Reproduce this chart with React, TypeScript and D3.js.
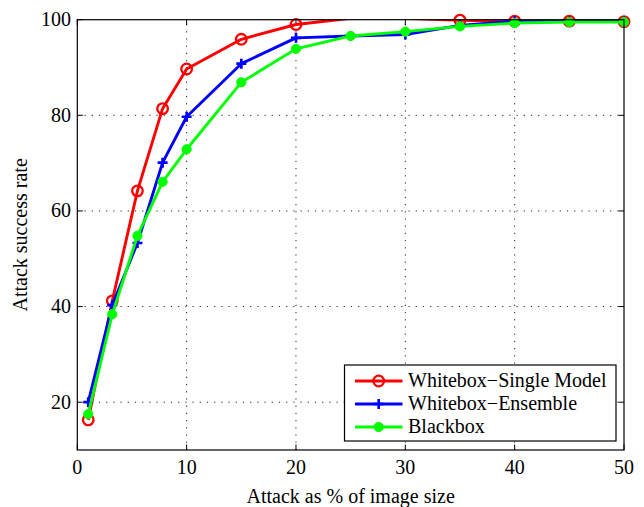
import React from "react";
import * as d3 from "d3";

const xValues = [1, 3.2, 5.5, 7.8, 10, 15, 20, 25, 30, 35, 40, 45, 50];
const singleModel = [16.3, 41.2, 64.2, 81.4, 89.7, 95.9, 99.0, 100.3, 100.3, 99.9, 99.7, 99.7, 99.6];
const ensemble = [20.0, 40.3, 53.3, 70.1, 79.7, 90.8, 96.2, 96.6, 96.9, 98.8, 99.7, 99.6, 99.6];
const blackbox = [17.5, 38.4, 54.8, 66.1, 72.9, 86.9, 93.9, 96.6, 97.5, 98.6, 99.3, 99.5, 99.5];
const xTicks = [0, 10, 20, 30, 40, 50];
const yTicks = [20, 40, 60, 80, 100];
const seriesNames = ["Whitebox\u2212Single Model", "Whitebox\u2212Ensemble", "Blackbox"];

const W = 644, H = 507;
const L = 77.3, R = 624, T = 19.7, B = 450;
const FONT = "'Liberation Serif', 'Times New Roman', Times, serif";

export default function App() {
  const x = d3.scaleLinear().domain([0, 50]).range([L, R]);
  const y = d3.scaleLinear().domain([10, 100]).range([B, T]);
  const line = d3.line<number>().x((_, i) => x(xValues[i])).y((d) => y(d));
  const series = [
    { name: seriesNames[0], data: singleModel, color: "#ff0000", marker: "circle" },
    { name: seriesNames[1], data: ensemble, color: "#0000ff", marker: "plus" },
    { name: seriesNames[2], data: blackbox, color: "#00ff00", marker: "dot" },
  ];

  const drawMarker = (kind: string, cx: number, cy: number, color: string, key: any) => {
    if (kind === "circle")
      return <circle key={key} cx={cx} cy={cy} r={5.3} fill="none" stroke={color} strokeWidth={2.3} />;
    if (kind === "plus")
      return (
        <path key={key} d={`M${cx - 5},${cy}H${cx + 5}M${cx},${cy - 5}V${cy + 5}`} stroke={color} strokeWidth={2.7} />
      );
    return <circle key={key} cx={cx} cy={cy} r={4.6} fill={color} stroke={color} strokeWidth={1} />;
  };

  const legX = 344.5, legY = 365, legW = 271.5, legH = 76;
  const rowY = [381, 404, 427];
  const txt = { fontFamily: FONT, fontSize: "20px" };

  return (
    <svg width={W} height={H} style={{ position: "absolute", left: 0, top: 0, background: "#fff", fontFamily: FONT }}>
      <defs>
        <clipPath id="plotclip">
          <rect x={L} y={T} width={R - L} height={B - T} />
        </clipPath>
      </defs>
      <rect x={0} y={0} width={W} height={H} fill="#fff" />
      {/* grid */}
      {xTicks.filter((t) => t > 0 && t < 50).map((t) => (
        <line key={"gx" + t} x1={x(t)} x2={x(t)} y1={B} y2={T} stroke="#222" strokeWidth={1} strokeDasharray="1.2,6" />
      ))}
      {yTicks.filter((t) => t < 100).map((t) => (
        <line key={"gy" + t} x1={L} x2={R} y1={y(t)} y2={y(t)} stroke="#222" strokeWidth={1} strokeDasharray="1.2,6" />
      ))}
      {/* ticks */}
      {xTicks.map((t) => (
        <g key={"tx" + t}>
          <line x1={x(t)} x2={x(t)} y1={B} y2={B - 5.5} stroke="#000" />
          <line x1={x(t)} x2={x(t)} y1={T} y2={T + 5.5} stroke="#000" />
          <text x={x(t)} y={473.5} style={txt} textAnchor="middle" fill="#000">{t}</text>
        </g>
      ))}
      {yTicks.map((t) => (
        <g key={"ty" + t}>
          <line x1={L} x2={L + 5.5} y1={y(t)} y2={y(t)} stroke="#000" />
          <line x1={R} x2={R - 5.5} y1={y(t)} y2={y(t)} stroke="#000" />
          <text x={71} y={y(t) + 6.4} style={txt} textAnchor="end" fill="#000">{t}</text>
        </g>
      ))}
      {/* series */}
      {series.map((s, si) => (
        <g key={"s" + si}>
          <path d={line(s.data) || ""} fill="none" stroke={s.color} strokeWidth={2.9} clipPath="url(#plotclip)" strokeLinejoin="round" />
          {s.data.map((v, i) => (v <= 100 ? drawMarker(s.marker, x(xValues[i]), y(v), s.color, i) : null))}
        </g>
      ))}
      {/* axes box */}
      <rect x={L} y={T} width={R - L} height={B - T} fill="none" stroke="#000" strokeWidth={1.2} />
      {/* axis labels */}
      <text x={(L + R) / 2} y={503.3} style={txt} textAnchor="middle" fill="#000">Attack as % of image size</text>
      <text transform={`translate(27,${(T + B) / 2}) rotate(-90)`} style={txt} textAnchor="middle" fill="#000">Attack success rate</text>
      {/* legend */}
      <rect x={legX} y={legY} width={legW} height={legH} fill="#fff" stroke="#000" strokeWidth={1.2} />
      {series.map((s, si) => (
        <g key={"l" + si}>
          <line x1={355} x2={402.5} y1={rowY[si]} y2={rowY[si]} stroke={s.color} strokeWidth={2.9} />
          {drawMarker(s.marker, 378.7, rowY[si], s.color, "m")}
          <text x={408} y={rowY[si] + 6.4} style={txt} fill="#000">{s.name}</text>
        </g>
      ))}
    </svg>
  );
}
